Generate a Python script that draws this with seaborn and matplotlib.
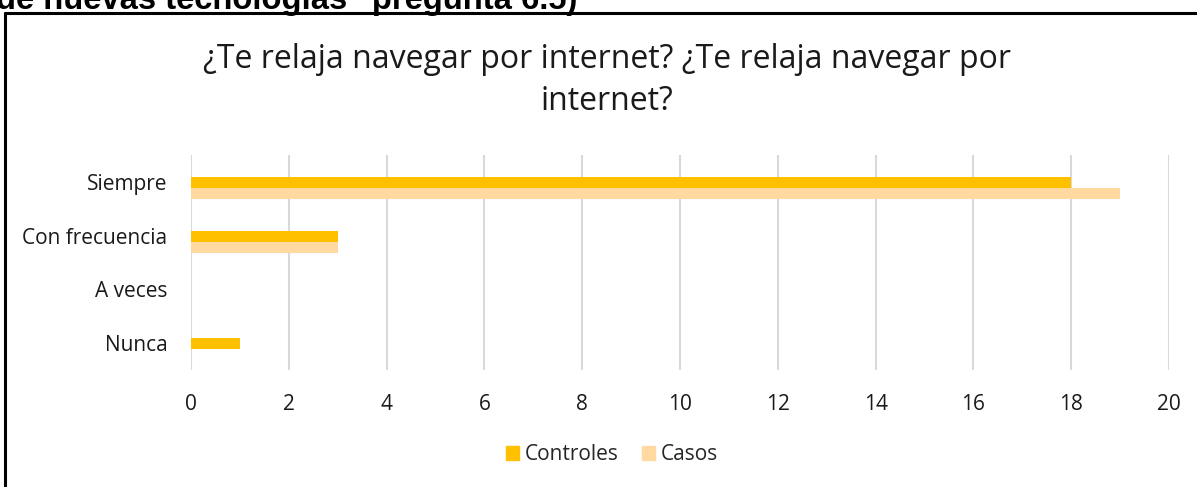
import matplotlib
matplotlib.use("Agg")
import matplotlib.pyplot as plt
import matplotlib.transforms as mtrans
import seaborn as sns
import pandas as pd
from matplotlib.lines import Line2D

categorias = ["Siempre", "Con frecuencia", "A veces", "Nunca"]
controles = [18, 3, 0, 1]
casos = [19, 3, 0, 0]
grupos = ["Controles", "Casos"]
colores = ["#FFC000", "#FFD9A0"]
xticks = [0, 2, 4, 6, 8, 10, 12, 14, 16, 18, 20]
titulo = "¿Te relaja navegar por internet? ¿Te relaja navegar por\ninternet?"
encabezado = "de nuevas tecnologías\" pregunta 6.5)"

df = pd.DataFrame({
    "categoria": categorias * 2,
    "valor": controles + casos,
    "grupo": [grupos[0]] * len(categorias) + [grupos[1]] * len(categorias),
})

sns.set_theme(style="white")
plt.rcParams["font.family"] = ["Open Sans", "DejaVu Sans"]

fig = plt.figure(figsize=(11.97, 4.87), dpi=100)
ax = fig.add_axes([191/1197, 1-370/487, (1169-191)/1197, (370-155)/487])

sns.barplot(data=df, x="valor", y="categoria", hue="grupo", order=categorias,
            hue_order=grupos, palette=colores, orient="h", width=0.41,
            saturation=1, ax=ax, legend=False, linewidth=0)

ax.set_xlim(0, 20)
# shift bars ~6px below the category label (Excel layout)
shift = 6 / ((370 - 155) / 4)
ax.set_ylim(3.5 - shift, -0.5 - shift)
ax.set_xticks(xticks)
ax.set_xticklabels([str(t) for t in xticks], fontsize=15, color="#1a1a1a")
ax.set_xlabel("")
ax.set_ylabel("")
ax.tick_params(axis="y", labelsize=15, labelcolor="#1a1a1a", length=0, pad=17)
ax.tick_params(axis="x", length=0, pad=17)
off = mtrans.ScaledTranslation(0, 6/100, fig.dpi_scale_trans)
for lab in ax.get_yticklabels():
    lab.set_transform(lab.get_transform() + off)
ax.grid(axis="x", color="#D9D9D9", linewidth=1.5)
ax.set_axisbelow(True)
for s in ax.spines.values():
    s.set_visible(False)

fig.text(607/1197, 1-80/487, titulo, ha="center", va="center", fontsize=23,
         color="#1a1a1a", linespacing=1.36)

handles = [plt.Rectangle((0, 0), 1, 1, color=c) for c in colores]
fig.legend(handles, grupos, loc="center", bbox_to_anchor=(612/1197, 1-455/487),
           ncol=2, frameon=False, fontsize=15, handlelength=0.63, handleheight=0.63,
           handletextpad=0.3, columnspacing=1.1)

fig.text(-0.003, 1-9/487, encabezado, ha="left", va="baseline", fontsize=23.6,
         fontweight="bold", family=["Liberation Sans", "DejaVu Sans"], color="black")

fig.add_artist(Line2D([5/1197, 5/1197], [0, 1-12.5/487], transform=fig.transFigure,
                      color="black", linewidth=2.2))
fig.add_artist(Line2D([5/1197, 1], [1-12.5/487, 1-12.5/487], transform=fig.transFigure,
                      color="black", linewidth=2.2))

fig.savefig("out.png", dpi=100)
